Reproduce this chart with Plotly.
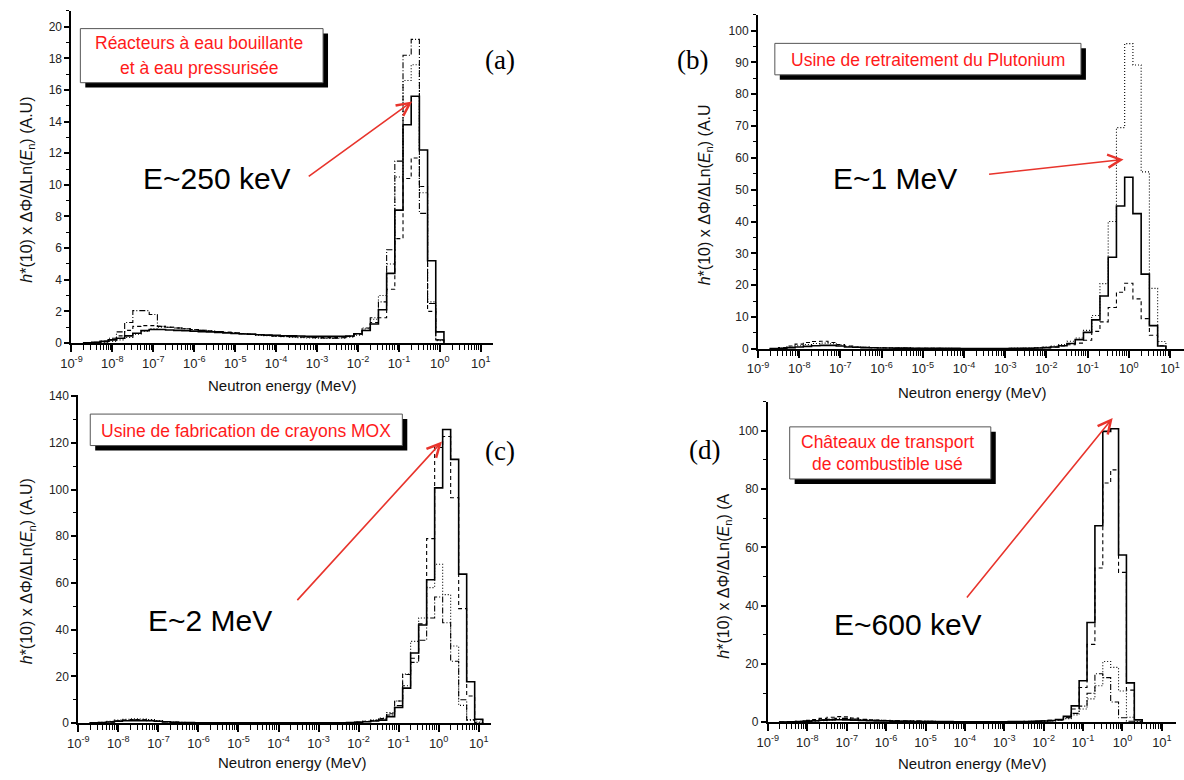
import plotly.graph_objects as go

W, H = 1184, 780

# ---------------- DATA ----------------
# Histogram bins: 5 per decade, first bin centre at 10^START MeV
BIN_WIDTH_DEC = 0.2
A_START = -8.6
B_START = -8.6
C_START = -8.6
D_START = -8.6

# (a) Réacteurs à eau bouillante et à eau pressurisée
A_SOLID = [0.02, 0.05, 0.1, 0.2, 0.3, 0.45, 0.62, 0.78, 0.85, 0.85,
           0.82, 0.8, 0.78, 0.75, 0.72, 0.7, 0.67, 0.64, 0.6, 0.57,
           0.55, 0.52, 0.5, 0.48, 0.46, 0.45, 0.44, 0.43, 0.42, 0.42,
           0.42, 0.43, 0.44, 0.58, 0.79, 1.2, 2.1, 4.4, 8.4, 13.8,
           15.6, 12.2, 5.2, 0.7]
A_DASHDOT = [0.02, 0.05, 0.12, 0.3, 0.7, 1.3, 2.05, 2.05, 1.8, 1.05,
             1.0, 0.95, 0.9, 0.85, 0.8, 0.75, 0.72, 0.68, 0.64, 0.6,
             0.56, 0.52, 0.48, 0.45, 0.42, 0.4, 0.38, 0.36, 0.34, 0.32,
             0.31, 0.33, 0.42, 0.6, 0.95, 1.6, 2.6, 5.9, 11.5, 18.2,
             19.2, 8.2, 2.5, 0.2]
A_DASHED = [0.01, 0.03, 0.08, 0.2, 0.45, 0.8, 1.05, 1.1, 1.1, 1.05,
            1.0, 0.95, 0.9, 0.85, 0.8, 0.76, 0.72, 0.68, 0.64, 0.6,
            0.56, 0.52, 0.48, 0.45, 0.42, 0.4, 0.38, 0.36, 0.35, 0.34,
            0.34, 0.36, 0.42, 0.55, 0.8, 1.3, 1.6, 3.4, 6.6, 10.4,
            11.7, 9.9, 2.0, 0.2]
A_DOTTED = [0.01, 0.02, 0.05, 0.1, 0.2, 0.35, 0.55, 0.75, 0.9, 1.0,
            1.0, 0.95, 0.9, 0.85, 0.8, 0.75, 0.7, 0.66, 0.62, 0.58,
            0.54, 0.5, 0.46, 0.43, 0.4, 0.37, 0.34, 0.32, 0.3, 0.28,
            0.28, 0.3, 0.36, 0.5, 0.9, 1.5, 3.0, 5.0, 10.5, 16.6,
            17.6, 9.5, 2.6, 0.15]

# (b) Usine de retraitement du Plutonium
B_SOLID = [0.1, 0.2, 0.4, 0.6, 0.8, 1.0, 1.1, 1.1, 0.9, 0.6,
           0.5, 0.4, 0.35, 0.3, 0.3, 0.25, 0.25, 0.2, 0.2, 0.2,
           0.15, 0.15, 0.15, 0.1, 0.1, 0.1, 0.1, 0.1, 0.1, 0.15,
           0.15, 0.2, 0.3, 0.4, 0.6, 1.0, 1.7, 2.9, 5.2, 9.1,
           16.6, 28.8, 44.9, 53.9, 42.5, 23.5, 7.3, 0.9]
B_DOTTED = [0.1, 0.3, 0.6, 1.0, 1.4, 1.7, 1.8, 1.6, 1.2, 0.8,
            0.6, 0.5, 0.4, 0.35, 0.3, 0.3, 0.25, 0.2, 0.2, 0.2,
            0.15, 0.15, 0.1, 0.1, 0.1, 0.1, 0.1, 0.1, 0.1, 0.15,
            0.2, 0.3, 0.4, 0.6, 0.9, 1.4, 2.4, 3.4, 5.8, 10.5,
            20.5, 40.0, 69.5, 95.9, 89.2, 55.6, 19.0, 2.3]
B_DASHED = [0.1, 0.4, 0.9, 1.5, 2.0, 2.3, 2.4, 2.0, 1.4, 0.9,
            0.6, 0.5, 0.4, 0.35, 0.3, 0.3, 0.25, 0.2, 0.2, 0.2,
            0.15, 0.1, 0.1, 0.1, 0.1, 0.1, 0.1, 0.1, 0.1, 0.1,
            0.15, 0.2, 0.3, 0.4, 0.6, 0.9, 1.3, 1.8, 2.7, 5.5,
            8.5, 13.0, 17.8, 20.6, 15.7, 9.5, 4.3, 1.0]

# (c) Usine de fabrication de crayons MOX
C_SOLID = [0.1, 0.3, 0.5, 0.8, 1.0, 1.1, 1.1, 1.0, 0.8, 0.6,
           0.4, 0.3, 0.25, 0.2, 0.2, 0.15, 0.15, 0.1, 0.1, 0.1,
           0.1, 0.1, 0.1, 0.1, 0.1, 0.1, 0.1, 0.1, 0.1, 0.1,
           0.15, 0.2, 0.3, 0.4, 0.6, 0.9, 1.3, 2.8, 6.7, 15.0,
           30.0, 42.0, 61.4, 100.7, 125.7, 112.9, 63.8, 17.7, 1.7]
C_DASHED = [0.1, 0.3, 0.6, 1.0, 1.3, 1.5, 1.4, 1.2, 0.9, 0.6,
            0.4, 0.3, 0.25, 0.2, 0.2, 0.15, 0.15, 0.1, 0.1, 0.1,
            0.1, 0.1, 0.1, 0.1, 0.1, 0.1, 0.1, 0.1, 0.1, 0.1,
            0.15, 0.2, 0.3, 0.5, 0.8, 1.2, 2.0, 4.0, 9.5, 20.8,
            27.8, 42.5, 79.0, 118.0, 122.7, 96.5, 49.0, 11.6, 1.5]
C_DOTTED = [0.1, 0.4, 0.8, 1.3, 1.7, 1.9, 1.8, 1.5, 1.1, 0.7,
            0.5, 0.4, 0.3, 0.25, 0.2, 0.2, 0.15, 0.15, 0.1, 0.1,
            0.1, 0.1, 0.1, 0.1, 0.1, 0.1, 0.1, 0.1, 0.1, 0.1,
            0.15, 0.2, 0.3, 0.5, 0.8, 1.3, 2.2, 4.5, 9.5, 21.0,
            35.0, 45.0, 58.0, 68.0, 55.0, 33.0, 7.6, 1.5, 0.5]
C_DASHDOT = [0.05, 0.2, 0.5, 0.9, 1.2, 1.4, 1.3, 1.1, 0.8, 0.5,
             0.4, 0.3, 0.25, 0.2, 0.15, 0.15, 0.1, 0.1, 0.1, 0.1,
             0.1, 0.1, 0.1, 0.1, 0.1, 0.1, 0.1, 0.1, 0.1, 0.1,
             0.1, 0.2, 0.3, 0.4, 0.7, 1.0, 1.8, 3.5, 7.5, 16.0,
             26.0, 35.5, 45.0, 54.0, 43.0, 26.5, 10.0, 1.3, 0.3]

# (d) Châteaux de transport de combustible usé
D_SOLID = [0.05, 0.1, 0.2, 0.35, 0.5, 0.7, 0.8, 0.85, 0.8, 0.7,
           0.6, 0.5, 0.45, 0.4, 0.35, 0.3, 0.3, 0.25, 0.25, 0.2,
           0.2, 0.2, 0.15, 0.15, 0.15, 0.15, 0.15, 0.15, 0.15, 0.2,
           0.2, 0.25, 0.3, 0.4, 0.55, 0.9, 2.0, 5.6, 14.2, 34.2,
           67.4, 99.8, 100.7, 57.4, 13.5, 0.8]
D_DASHED = [0.05, 0.15, 0.3, 0.6, 0.9, 1.3, 1.7, 1.9, 1.8, 1.4,
            1.0, 0.8, 0.7, 0.6, 0.5, 0.45, 0.4, 0.35, 0.3, 0.3,
            0.25, 0.25, 0.2, 0.2, 0.2, 0.2, 0.2, 0.2, 0.2, 0.2,
            0.25, 0.3, 0.35, 0.45, 0.6, 0.9, 1.7, 4.5, 11.9, 26.7,
            52.9, 82.1, 86.6, 51.4, 11.0, 0.9]
D_DOTTED = [0.02, 0.05, 0.1, 0.2, 0.35, 0.5, 0.7, 0.9, 1.0, 0.9,
            0.8, 0.7, 0.6, 0.5, 0.45, 0.4, 0.35, 0.3, 0.3, 0.25,
            0.2, 0.2, 0.2, 0.15, 0.15, 0.15, 0.15, 0.15, 0.15, 0.15,
            0.2, 0.2, 0.25, 0.3, 0.4, 0.7, 1.2, 2.5, 4.5, 8.0,
            12.5, 20.8, 18.8, 10.7, 1.7, 0.2]
D_DASHDOT = [0.02, 0.05, 0.15, 0.3, 0.5, 0.8, 1.1, 1.3, 1.3, 1.1,
             0.9, 0.75, 0.65, 0.55, 0.5, 0.45, 0.4, 0.35, 0.3, 0.3,
             0.25, 0.25, 0.2, 0.2, 0.2, 0.2, 0.2, 0.2, 0.2, 0.2,
             0.2, 0.25, 0.3, 0.35, 0.45, 0.7, 1.5, 3.0, 5.5, 9.9,
             16.6, 15.3, 6.9, 1.5, 0.3, 0.05]

X_TICK_VALUES = [1e-9, 1e-8, 1e-7, 1e-6, 1e-5, 1e-4, 1e-3, 1e-2, 1e-1, 1e0, 1e1]
X_TICK_TEXT = ["10<sup>-9</sup>", "10<sup>-8</sup>", "10<sup>-7</sup>", "10<sup>-6</sup>",
               "10<sup>-5</sup>", "10<sup>-4</sup>", "10<sup>-3</sup>", "10<sup>-2</sup>",
               "10<sup>-1</sup>", "10<sup>0</sup>", "10<sup>1</sup>"]
MINOR_MULT = [2, 3, 4, 5, 6, 7, 8, 9]

# ---------------- STYLE / LAYOUT ----------------
STYLES = {
    "solid": dict(color="black", width=1.6),
    "dashed": dict(color="black", width=1.1, dash="4px,3px"),
    "dotted": dict(color="black", width=1.1, dash="1px,2px"),
    "dashdot": dict(color="black", width=1.1, dash="6px,2px,1px,2px"),
}

PANELS = [
    dict(n="", start=A_START, series=[("dotted", A_DOTTED), ("dashed", A_DASHED), ("dashdot", A_DASHDOT), ("solid", A_SOLID)],
         x0=61, x1=487, xmax=1.31, ybot=342.7, ytop=5.0, ymax=21, dtick=2, mtick=1,
         ytitle="<i>h</i>*(10) x ΔΦ/ΔLn(<i>E</i><sub>n</sub>) (A.U)", ytx=17, yty=187,
         xtx=274, xty=386, lab="(a)", labx=494, laby=55,
         box=(70, 23, 315, 78), boxtext=["Réacteurs à eau bouillante", "et à eau pressurisée"], boxty=[38, 63], boxtx=190,
         etext="E~250 keV", ex=208, ey=175, arrow=(300, 173, 405, 97)),
    dict(n="2", start=B_START, series=[("dotted", B_DOTTED), ("dashed", B_DASHED), ("solid", B_SOLID)],
         x0=754, x1=1184, xmax=1.34, ybot=348.7, ytop=8.8, ymax=105, dtick=10, mtick=5,
         ytitle="<i>h</i>*(10) x ΔΦ/ΔLn(<i>E</i><sub>n</sub>) (A.U", ytx=701, yty=192,
         xtx=970, xty=393, lab="(b)", labx=688, laby=55,
         box=(771, 38, 1080, 70), boxtext=["Usine de retraitement du Plutonium"], boxty=[55], boxtx=926,
         etext="E~1 MeV", ex=892, ey=175, arrow=(987, 171, 1123, 156)),
    dict(n="3", start=C_START, series=[("dotted", C_DOTTED), ("dashdot", C_DASHDOT), ("dashed", C_DASHED), ("solid", C_SOLID)],
         x0=68, x1=485, xmax=1.32, ybot=729.3, ytop=395.5, ymax=140.5, dtick=20, mtick=10,
         ytitle="<i>h</i>*(10) x ΔΦ/ΔLn(<i>E</i><sub>n</sub>) (A.U)", ytx=17, yty=575,
         xtx=284, xty=769, lab="(c)", labx=494, laby=453,
         box=(80, 415, 395, 447), boxtext=["Usine de fabrication de crayons MOX"], boxty=[432], boxtx=237,
         etext="E~2 MeV", ex=201, ey=625, arrow=(289, 603, 435, 443)),
    dict(n="4", start=D_START, series=[("dotted", D_DOTTED), ("dashdot", D_DASHDOT), ("dashed", D_DASHED), ("solid", D_SOLID)],
         x0=764, x1=1176, xmax=1.36, ybot=728.3, ytop=402.4, ymax=110, dtick=20, mtick=10,
         ytitle="<i>h</i>*(10) x ΔΦ/ΔLn(<i>E</i><sub>n</sub>) (A", ytx=720, yty=580,
         xtx=970, xty=770, lab="(d)", labx=700, laby=452,
         box=(786, 428, 989, 481), boxtext=["Châteaux de transport", "de combustible usé"], boxty=[443, 466], boxtx=885,
         etext="E~600 keV", ex=905, ey=629, arrow=(965, 600, 1112, 419)),
]

SANS = "Liberation Sans, Arial, sans-serif"
SERIF = "Liberation Serif, Times New Roman, serif"
RED = "#ff1a1a"
ARROW_RED = "#e8342c"


def px(x):
    return x / W


def py(y):
    return 1 - y / H


fig = go.Figure()
annotations = []
shapes = []
layout = {}

minor_vals = [m * 10 ** e for e in range(-9, 1) for m in MINOR_MULT]

for p in PANELS:
    n = p["n"]
    xa, ya = "x" + n, "y" + n
    for style, vals in p["series"]:
        nb = len(vals)
        edges = [10 ** (p["start"] - BIN_WIDTH_DEC / 2 + BIN_WIDTH_DEC * i) for i in range(nb + 1)]
        xs = [edges[0]] + edges[:nb] + [edges[nb]]
        ys = [0] + list(vals) + [0]
        fig.add_trace(go.Scatter(x=xs, y=ys, mode="lines", line=STYLES[style], line_shape="hv",
                                 xaxis=xa, yaxis=ya, showlegend=False, hoverinfo="skip"))

    layout["xaxis" + n] = dict(
        type="log", range=[-9, p["xmax"]], domain=[px(p["x0"]), px(p["x1"])], anchor=ya,
        showline=True, linecolor="black", linewidth=2, mirror=False,
        ticks="outside", ticklen=7, tickwidth=1.6, tickcolor="black",
        tickmode="array", tickvals=X_TICK_VALUES, ticktext=X_TICK_TEXT,
        tickfont=dict(family=SANS, size=13, color="#222"),
        minor=dict(tickmode="array", tickvals=minor_vals, ticks="outside", ticklen=5,
                   tickwidth=1.3, tickcolor="black", showgrid=False),
        showgrid=False, zeroline=False, fixedrange=True,
    )
    layout["yaxis" + n] = dict(
        range=[0, p["ymax"]], domain=[py(p["ybot"]), py(p["ytop"])], anchor=xa,
        showline=True, linecolor="black", linewidth=2,
        ticks="outside", ticklen=5, tickwidth=1.6, tickcolor="black",
        dtick=p["dtick"], tick0=0,
        tickfont=dict(family=SANS, size=12, color="#222"),
        minor=dict(dtick=p["mtick"], ticks="outside", ticklen=3, tickwidth=1.3, tickcolor="black", showgrid=False),
        showgrid=False, zeroline=False, fixedrange=True,
    )

    # axis titles
    annotations.append(dict(text=p["ytitle"], x=px(p["ytx"]), y=py(p["yty"]), xref="paper", yref="paper",
                            textangle=-90, showarrow=False, xanchor="center", yanchor="middle",
                            font=dict(family=SANS, size=16, color="#111")))
    annotations.append(dict(text="Neutron energy (MeV)", x=px(p["xtx"]), y=py(p["xty"]), xref="paper", yref="paper",
                            showarrow=False, xanchor="center", yanchor="middle",
                            font=dict(family=SANS, size=15, color="#111")))
    # panel letter
    annotations.append(dict(text=p["lab"], x=px(p["labx"]), y=py(p["laby"]), xref="paper", yref="paper",
                            showarrow=False, xanchor="center", yanchor="middle",
                            font=dict(family=SERIF, size=27, color="black")))
    # boxed red label with shadow
    bx0, by0, bx1, by1 = p["box"]
    shapes.append(dict(type="rect", xref="paper", yref="paper", x0=px(bx0 + 5), x1=px(bx1 + 5),
                       y0=py(by0 + 5), y1=py(by1 + 5), fillcolor="black", line=dict(width=0)))
    shapes.append(dict(type="rect", xref="paper", yref="paper", x0=px(bx0), x1=px(bx1),
                       y0=py(by0), y1=py(by1), fillcolor="white", line=dict(color="#555", width=1)))
    for t, ty in zip(p["boxtext"], p["boxty"]):
        annotations.append(dict(text=t, x=px(p["boxtx"]), y=py(ty), xref="paper", yref="paper",
                                showarrow=False, xanchor="center", yanchor="middle",
                                font=dict(family=SANS, size=17.5, color=RED)))
    # energy label
    annotations.append(dict(text=p["etext"], x=px(p["ex"]), y=py(p["ey"]), xref="paper", yref="paper",
                            showarrow=False, xanchor="center", yanchor="middle",
                            font=dict(family=SANS, size=30, color="black")))
    # red arrow
    tx, ty_, hx, hy = p["arrow"]
    annotations.append(dict(text="", x=px(hx), y=py(hy), xref="paper", yref="paper",
                            showarrow=True, ax=tx - hx, ay=ty_ - hy, axref="pixel", ayref="pixel",
                            arrowhead=5, arrowsize=1.6, arrowwidth=1.6, arrowcolor=ARROW_RED))

fig.update_layout(
    width=W, height=H, margin=dict(l=0, r=0, t=0, b=0),
    paper_bgcolor="white", plot_bgcolor="white",
    showlegend=False, annotations=annotations, shapes=shapes, **layout,
)

fig.write_html("out.html")
